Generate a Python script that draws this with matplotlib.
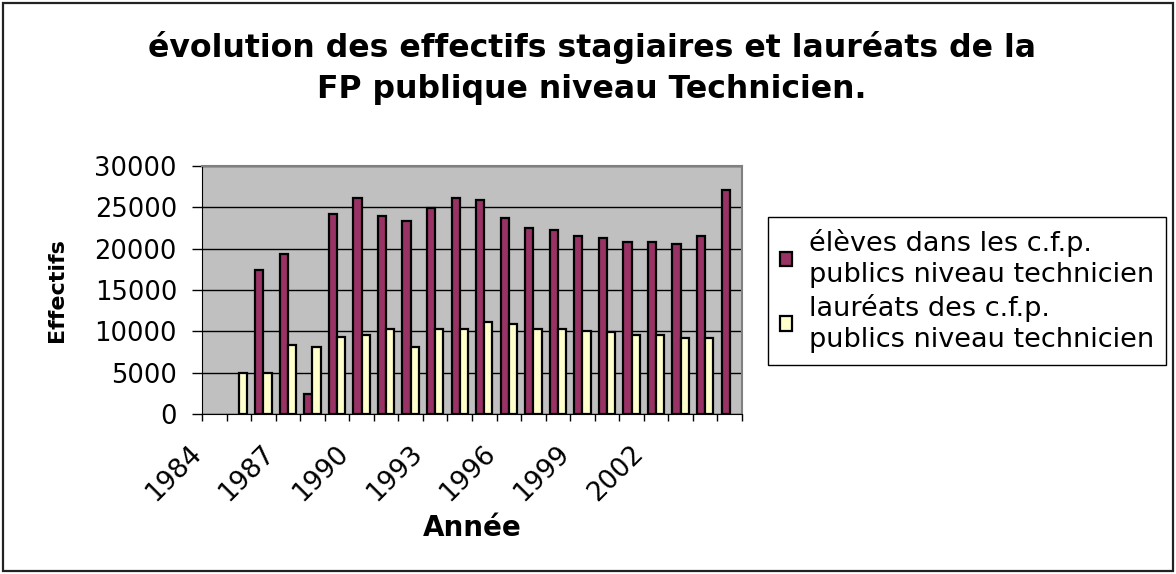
import numpy as np
import matplotlib
matplotlib.use('Agg')
from matplotlib import pyplot as plt
from matplotlib.patches import Rectangle
from matplotlib.transforms import ScaledTranslation

plt.rcParams['font.family'] = ['DejaVu Sans']

annees = list(range(1984, 2006))
eleves = [np.nan, np.nan, 17400, 19350, 2400, 24200, 26100, 23900, 23400, 24900, 26100,
          25900, 23700, 22500, 22250, 21500, 21300, 20800, 20800, 20550, 21500, 27100]
laureats = [np.nan, 5000, 5000, 8400, 8150, 9350, 9600, 10300, 8150, 10300, 10300,
            11100, 10850, 10300, 10300, 10100, 9900, 9600, 9600, 9150, 9150, np.nan]
nom_eleves = 'élèves dans les c.f.p.\npublics niveau technicien'
nom_laureats = 'lauréats des c.f.p.\npublics niveau technicien'
titre = 'évolution des effectifs stagiaires et lauréats de la\nFP publique niveau Technicien.'

fig = plt.figure(figsize=(11.76, 5.74), dpi=100)
ax = fig.add_axes([202/1176, 1-414/574, 540/1176, 248/574])
ax.set_facecolor('#C0C0C0')

x = np.arange(len(annees))
larg = 1/3
ax.bar(x - larg/2, eleves, larg, color='#993366', edgecolor='black', linewidth=1.6,
       label=nom_eleves, zorder=3)
ax.bar(x + larg/2, laureats, larg, color='#FFFFCC', edgecolor='black', linewidth=1.6,
       label=nom_laureats, zorder=3)

ax.set_xlim(-0.5, len(annees) - 0.5)
ax.set_ylim(0, 30000)
ax.set_yticks(range(0, 30001, 5000))
ax.yaxis.grid(True, color='black', linewidth=1)
ax.set_axisbelow(True)

ax.tick_params(axis='y', length=7, width=1, pad=11, labelsize=18.5)
# tick marks between the categories, labels every 3 years (no 2005)
ax.set_xticks(np.arange(-0.5, len(annees), 1), minor=True)
ax.set_xticks(x[:19:3])
ax.set_xticklabels([str(a) for a in annees[:19:3]])
ax.tick_params(axis='x', which='minor', length=5, width=1)
ax.tick_params(axis='x', which='major', length=0, pad=29.5, labelsize=19)
decal = ScaledTranslation(-12/100, 0, fig.dpi_scale_trans)
for lab in ax.get_xticklabels():
    lab.set_rotation(45)
    lab.set_ha('right')
    lab.set_va('baseline')
    lab.set_rotation_mode('anchor')
    lab.set_transform(lab.get_transform() + decal)

for s in ['top', 'right']:
    ax.spines[s].set_color('#808080')
    ax.spines[s].set_linewidth(1.5)
ax.spines['left'].set_color('black')
ax.spines['bottom'].set_color('black')

ax.set_ylabel('Effectifs', fontsize=16, fontweight='bold')
ax.yaxis.set_label_coords((57-202)/540, 0.5)
ax.yaxis.label.set_va('center')
ax.set_xlabel('Année', fontsize=20, fontweight='bold')
ax.xaxis.set_label_coords(0.5, (414-528)/248)
ax.xaxis.label.set_va('center')

fig.text(592/1176, 1-68/574, titre, ha='center', va='center', fontsize=22.7,
         fontweight='bold', linespacing=1.4)

leg = fig.legend(loc='upper left', bbox_to_anchor=(768/1176, 1-217/574), fontsize=19.5,
                 frameon=True, fancybox=False, edgecolor='black', framealpha=1,
                 handlelength=0.45, handleheight=0.45, handletextpad=0.6,
                 borderpad=0.45, labelspacing=0.2, borderaxespad=0)
leg.get_frame().set_linewidth(1)
for t in leg.get_texts():
    t.set_linespacing(1.25)

fig.patches.append(Rectangle((3/1176, 3/574), 1170/1176, 568/574, transform=fig.transFigure,
                             fill=False, edgecolor='#222222', linewidth=1.6))

plt.savefig('out.png', dpi=100)
